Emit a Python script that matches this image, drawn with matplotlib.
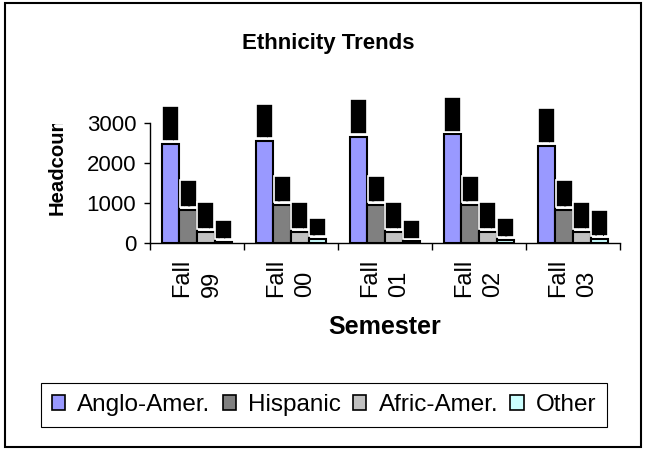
import numpy as np
import matplotlib
matplotlib.use("Agg")
import matplotlib.pyplot as plt
from matplotlib.patches import Rectangle, Patch
from matplotlib.transforms import Bbox, TransformedBbox

plt.rcParams['font.family'] = ['Liberation Sans', 'DejaVu Sans']

# data
semesters = ['Fall\n99', 'Fall\n00', 'Fall\n01', 'Fall\n02', 'Fall\n03']
groups = ['Anglo-Amer.', 'Hispanic', 'Afric-Amer.', 'Other']
anglo = [2475, 2550, 2660, 2715, 2425]
hispanic = [825, 950, 950, 950, 825]
afric = [275, 275, 275, 275, 275]
other = [30, 95, 40, 80, 100]
colors = ['#9999FF', '#808080', '#C0C0C0', '#CCFFFF']

W, H = 647, 450
fig = plt.figure(figsize=(W / 100, H / 100), dpi=100)

# outer chart border
fig.patches.append(Rectangle((5 / W, 3 / H), 636 / W, 444 / H, transform=fig.transFigure,
                             fill=False, edgecolor='black', linewidth=1.5))

ax = fig.add_axes([150 / W, 1 - 243 / H, 470 / W, 120 / H])

x = np.arange(len(semesters)) + 0.5
width = 0.188
series = [anglo, hispanic, afric, other]
for i, vals in enumerate(series):
    pos = x + (i - 1.5) * width
    ax.bar(pos, vals, width, color=colors[i], edgecolor='black', linewidth=1.5,
           label=groups[i], zorder=2)
    # data labels (rendered as black blocks in the original)
    for px, v in zip(pos, vals):
        ax.annotate(str(v), xy=(px, v), xytext=(0, 3), textcoords='offset points',
                    rotation=90, ha='center', va='bottom', fontsize=10.4, color='black',
                    bbox=dict(boxstyle='square,pad=0.1', fc='black', ec='white', lw=1.2),
                    annotation_clip=False, zorder=3)

ax.set_xlim(0, len(semesters))
ax.set_ylim(0, 3000)
ax.set_yticks([0, 1000, 2000, 3000])
ax.tick_params(axis='y', direction='out', length=4, width=1, pad=6, labelsize=16)

ax.set_xticks(np.arange(len(semesters) + 1))
ax.set_xticklabels([])
ax.set_xticks(x, minor=True)
ax.set_xticklabels(semesters, minor=True)
ax.tick_params(axis='x', which='major', direction='out', length=5, width=1)
ax.tick_params(axis='x', which='minor', length=0, pad=11, labelsize=17, labelrotation=90)
for lbl in ax.get_xticklabels(minor=True):
    lbl.set_multialignment('left')
    lbl.set_linespacing(1.4)
    lbl.set_verticalalignment('top')

for side in ['top', 'right']:
    ax.spines[side].set_visible(False)
ax.spines['left'].set_linewidth(1)
ax.spines['bottom'].set_linewidth(1)

fig.text(328 / W, 1 - 43 / H, 'Ethnicity Trends', ha='center', va='center',
         fontsize=16, fontweight='bold')
fig.text(385 / W, 1 - 327 / H, 'Semester', ha='center', va='center',
         fontsize=18, fontweight='bold')

ylab = fig.text(57 / W, 1 - 215 / H, 'Headcount', rotation=90, ha='center', va='bottom',
                fontsize=14.6, fontweight='bold')
ylab.set_clip_box(TransformedBbox(Bbox([[0, 0], [1, 1 - 124 / H]]), fig.transFigure))
ylab.set_clip_on(True)

handles = [Patch(facecolor=c, edgecolor='black', linewidth=1.2) for c in colors]
leg = fig.legend(handles, groups, ncol=4, loc='center', bbox_to_anchor=(324 / W, 1 - 405 / H),
                 fontsize=17.5, frameon=True, fancybox=False, edgecolor='black', framealpha=1,
                 handlelength=0.55, handleheight=0.55, handletextpad=0.5,
                 columnspacing=0.5, borderpad=0.45)
leg.get_frame().set_linewidth(0.8)

fig.savefig('out.png', dpi=100)
